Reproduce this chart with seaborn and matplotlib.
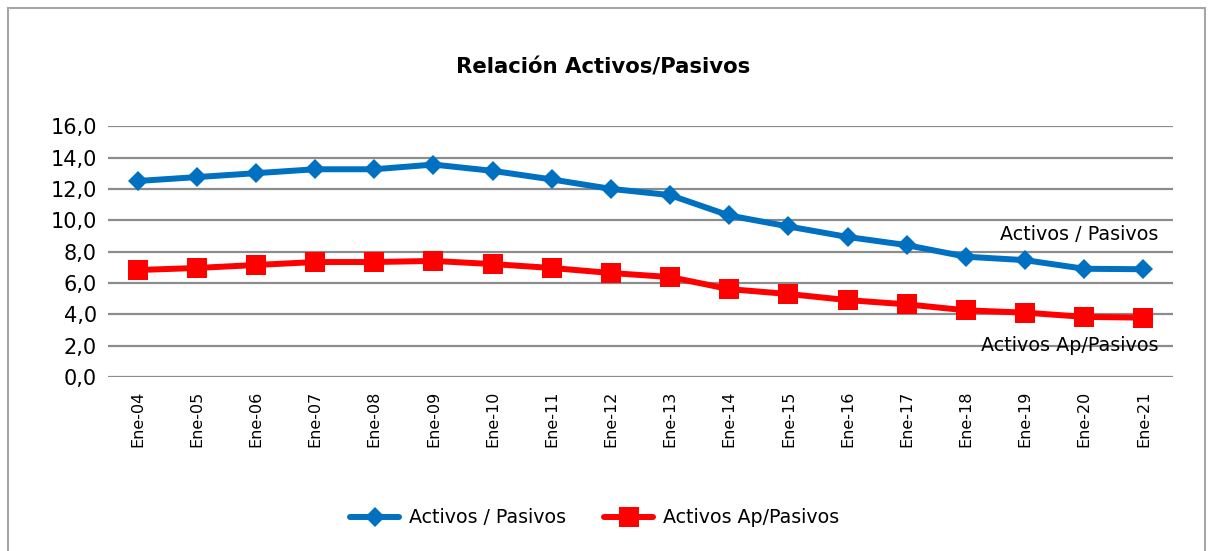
import matplotlib.pyplot as plt
import matplotlib.ticker as mticker
import seaborn as sns
import pandas as pd
from matplotlib.patches import Rectangle

# Datos
periodos = ["Ene-04", "Ene-05", "Ene-06", "Ene-07", "Ene-08", "Ene-09", "Ene-10", "Ene-11", "Ene-12",
            "Ene-13", "Ene-14", "Ene-15", "Ene-16", "Ene-17", "Ene-18", "Ene-19", "Ene-20", "Ene-21"]
activos_pasivos = [12.5, 12.75, 13.0, 13.25, 13.25, 13.55, 13.15, 12.6, 12.0,
                   11.6, 10.3, 9.6, 8.93, 8.41, 7.67, 7.45, 6.9, 6.87]
activos_ap_pasivos = [6.82, 6.95, 7.14, 7.33, 7.33, 7.4, 7.2, 6.95, 6.63,
                      6.37, 5.6, 5.29, 4.9, 4.63, 4.25, 4.1, 3.83, 3.78]

sns.set_style("white")
plt.rcParams["font.family"] = ["DejaVu Sans"]
plt.rcParams["text.color"] = "black"
plt.rcParams["xtick.color"] = "black"
plt.rcParams["ytick.color"] = "black"

df = pd.DataFrame({"Periodo": periodos, "AP": activos_pasivos, "AAP": activos_ap_pasivos})

fig = plt.figure(figsize=(12.13, 5.51), dpi=100)
ax = fig.add_axes([0.089, 0.316, 0.878, 0.455])

sns.lineplot(data=df, x="Periodo", y="AP", ax=ax, color="#0070C0", linewidth=4.3,
             marker="D", markersize=10.5, markeredgewidth=0, sort=False, label="Activos / Pasivos")
sns.lineplot(data=df, x="Periodo", y="AAP", ax=ax, color="#FF0000", linewidth=4.3,
             marker="s", markersize=14.5, markeredgewidth=0, sort=False, label="Activos Ap/Pasivos")

ax.set_ylim(0, 16)
ax.set_xlim(-0.5, len(periodos) - 0.5)
ax.set_yticks(range(0, 17, 2))
ax.yaxis.set_major_formatter(mticker.FuncFormatter(lambda v, p: f"{v:.1f}".replace(".", ",")))
ax.grid(axis="y", color="#8c8c8c", linewidth=1.6)
ax.set_axisbelow(True)
for s in ax.spines.values():
    s.set_visible(False)
ax.tick_params(axis="y", labelsize=15, length=0, pad=8)
ax.tick_params(axis="x", labelsize=11.5, length=0, pad=10)
plt.setp(ax.get_xticklabels(), rotation=90)
ax.set_xlabel("")
ax.set_ylabel("")

# Etiquetas de las series
ax.text(17.25, 9.1, "Activos / Pasivos", ha="right", va="center", fontsize=13.8)
ax.text(17.25, 2.0, "Activos Ap/Pasivos", ha="right", va="center", fontsize=13.8)

fig.text(0.497, 0.878, "Relación Activos/Pasivos", ha="center", va="center",
         fontsize=15.3, fontweight="bold")

ax.legend(loc="center", bbox_to_anchor=(0.49, 0.06), bbox_transform=fig.transFigure,
          ncol=2, frameon=False, fontsize=13.7, handlelength=2.6, columnspacing=2.0,
          handletextpad=0.5, markerscale=0.95)

fig.patches.append(Rectangle((0.007, -0.01), 0.986, 0.995, transform=fig.transFigure,
                             fill=False, edgecolor="#a6a6a6", linewidth=1.5))

plt.savefig("out.png", dpi=100)
plt.close()
